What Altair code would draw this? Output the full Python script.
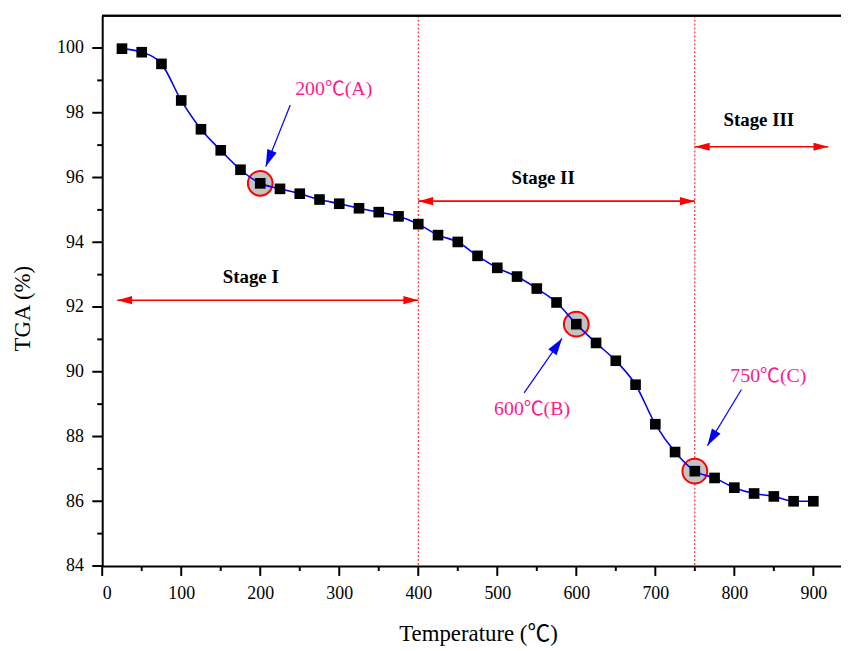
import math
import altair as alt
import pandas as pd

# ---------------- data ----------------
temperature = [25, 50, 75, 100, 125, 150, 175, 200, 225, 250, 275, 300, 325, 350,
               375, 400, 425, 450, 475, 500, 525, 550, 575, 600, 625, 650, 675,
               700, 725, 750, 775, 800, 825, 850, 875, 900]
tga = [99.98, 99.87, 99.51, 98.38, 97.49, 96.84, 96.24, 95.82, 95.65, 95.50,
       95.32, 95.19, 95.05, 94.93, 94.80, 94.56, 94.22, 94.01, 93.58, 93.21,
       92.94, 92.57, 92.14, 91.47, 90.89, 90.34, 89.60, 88.38, 87.52, 86.93,
       86.72, 86.42, 86.24, 86.15, 86.00, 86.00]

highlight_temp = [200, 600, 750]
stage_line_temp = [400, 750]

point_labels = ["200℃(A)", "600℃(B)", "750℃(C)"]
point_label_x = [293, 544, 843]
point_label_y = [98.74, 88.84, 89.88]
pointer_tail_x = [238, 534, 809]
pointer_tail_y = [98.24, 89.35, 89.45]
pointer_tip_x = [207, 582, 766]
pointer_tip_y = [96.34, 91.03, 87.72]

stage_labels = ["Stage I", "Stage II", "Stage III"]
stage_label_x = [188, 558, 831]
stage_label_y = [92.92, 95.97, 97.77]
stage_start = [19, 400, 750]
stage_end = [400, 750, 919]
stage_arrow_y = [92.21, 95.27, 96.95]

x_major = list(range(0, 901, 100))
x_minor = list(range(50, 901, 100))
y_major = list(range(84, 101, 2))
y_minor = list(range(85, 100, 2))

# ---------------- layout ----------------
W, H = 745, 555
XDOM = [0, 935]
YDOM = [84, 101]
SX = W / (XDOM[1] - XDOM[0])
SY = H / (YDOM[1] - YDOM[0])
FONT = "Liberation Serif"
FONT_C = "Liberation Serif, Noto Sans CJK SC"
MAJOR_LEN, MINOR_LEN = 10, 5


def heading(dx, dy):
    # screen angle (clockwise from up) of a vector given in data units
    px, py = dx * SX, -dy * SY
    return math.degrees(math.atan2(px, -py)) % 360


df = pd.DataFrame({"T": temperature, "TGA": tga})
hl = df[df["T"].isin(highlight_temp)]
vlines = pd.DataFrame({"T": stage_line_temp})

pointers = pd.DataFrame({
    "x0": pointer_tail_x, "y0": pointer_tail_y,
    "x1": pointer_tip_x, "y1": pointer_tip_y,
})
pointers["ang"] = [heading(b - a, d - c) for a, b, c, d in
                   zip(pointer_tail_x, pointer_tip_x, pointer_tail_y, pointer_tip_y)]
plabels = pd.DataFrame({"x": point_label_x, "y": point_label_y, "t": point_labels})

stages = pd.DataFrame({"x0": stage_start, "x1": stage_end, "y": stage_arrow_y})
heads = pd.DataFrame({
    "x": stage_start + stage_end,
    "y": stage_arrow_y + stage_arrow_y,
    "ang": [270] * 3 + [90] * 3,
})
slabels = pd.DataFrame({"x": stage_label_x, "y": stage_label_y, "t": stage_labels})

xs = alt.Scale(domain=XDOM, nice=False, zero=False)
ys = alt.Scale(domain=YDOM, nice=False, zero=False)

LBL = dict(labelFont=FONT, labelFontSize=18, labelColor="black")

x_axis = alt.Axis(
    orient="bottom", values=x_major, ticks=False, labelPadding=19,
    domainColor="black", domainWidth=2, grid=False,
    title="Temperature (℃)",
    titleX=379, titleY=68, titleBaseline="middle", titleAlign="center",
    titleFontSize=23, titleFontWeight="normal", titleFont=FONT_C, titleColor="black",
    **LBL,
)
y_axis = alt.Axis(
    orient="left", values=y_major, ticks=False, labelPadding=19,
    domainColor="black", domainWidth=2, grid=False,
    title="TGA (%)",
    titleX=-80, titleY=295, titleBaseline="middle", titleAlign="center",
    titleAngle=270,
    titleFontSize=23, titleFontWeight="normal", titleFont=FONT, titleColor="black",
    **LBL,
)


def x_ticks_layer(values, length):
    return alt.Chart(pd.DataFrame({"v": values})).mark_rule(color="black", strokeWidth=2).encode(
        x=alt.X("v:Q", scale=xs, axis=None), y=alt.value(H), y2=alt.value(H + length)
    )


def y_ticks_layer(values, length):
    return alt.Chart(pd.DataFrame({"v": values})).mark_rule(color="black", strokeWidth=2).encode(
        y=alt.Y("v:Q", scale=ys, axis=None), x=alt.value(0), x2=alt.value(-length)
    )


stage_rules = alt.Chart(vlines).mark_rule(color="#ff0000", strokeDash=[2, 2], strokeWidth=1).encode(
    x=alt.X("T:Q", scale=xs, axis=None)
)

top_rule = alt.Chart(vlines).mark_rule(color="black", strokeWidth=2).encode(
    y=alt.datum(101, scale=ys, axis=None)
)

circles = alt.Chart(hl).mark_point(
    shape="circle", filled=True, fill="#c3c3c3", stroke="#ff0000", strokeWidth=2,
    size=620, opacity=1,
).encode(x=alt.X("T:Q", scale=xs, axis=None), y=alt.Y("TGA:Q", scale=ys, axis=None))

line = alt.Chart(df).mark_line(color="#0000ff", strokeWidth=1.6, interpolate="monotone").encode(
    x=alt.X("T:Q", scale=xs, axis=x_axis), y=alt.Y("TGA:Q", scale=ys, axis=y_axis)
)

squares = alt.Chart(df).mark_square(color="black", size=115, opacity=1).encode(
    x=alt.X("T:Q", scale=xs, axis=None), y=alt.Y("TGA:Q", scale=ys, axis=None)
)

ptr_shafts = alt.Chart(pointers).mark_rule(color="#0000ff", strokeWidth=1.2).encode(
    x=alt.X("x0:Q", scale=xs, axis=None), y=alt.Y("y0:Q", scale=ys, axis=None),
    x2="x1:Q", y2="y1:Q"
)
ptr_heads = alt.Chart(pointers).mark_point(
    shape="M0,0L0.6,2L-0.6,2Z", filled=True, color="#0000ff", size=289, opacity=1
).encode(
    x=alt.X("x1:Q", scale=xs, axis=None), y=alt.Y("y1:Q", scale=ys, axis=None),
    angle=alt.Angle("ang:Q", scale=None),
)
ptr_text = alt.Chart(plabels).mark_text(
    font=FONT_C, fontSize=20, color="#ff1a8c", align="center", baseline="middle"
).encode(x=alt.X("x:Q", scale=xs, axis=None), y=alt.Y("y:Q", scale=ys, axis=None), text="t:N")

stage_shafts = alt.Chart(stages).mark_rule(color="#ff0000", strokeWidth=1.6).encode(
    x=alt.X("x0:Q", scale=xs, axis=None), x2="x1:Q", y=alt.Y("y:Q", scale=ys, axis=None)
)
stage_heads = alt.Chart(heads).mark_point(
    shape="M0,0L0.55,2L-0.55,2Z", filled=True, color="#ff0000", size=225, opacity=1
).encode(
    x=alt.X("x:Q", scale=xs, axis=None), y=alt.Y("y:Q", scale=ys, axis=None),
    angle=alt.Angle("ang:Q", scale=None),
)
stage_text = alt.Chart(slabels).mark_text(
    font=FONT, fontSize=19, fontWeight="bold", color="black", align="center", baseline="middle"
).encode(x=alt.X("x:Q", scale=xs, axis=None), y=alt.Y("y:Q", scale=ys, axis=None), text="t:N")

chart = alt.layer(
    stage_rules, top_rule, circles, line, squares,
    ptr_shafts, ptr_heads, ptr_text,
    stage_shafts, stage_heads, stage_text,
    x_ticks_layer(x_major, MAJOR_LEN), x_ticks_layer(x_minor, MINOR_LEN),
    y_ticks_layer(y_major, MAJOR_LEN), y_ticks_layer(y_minor, MINOR_LEN),
).resolve_axis(x="independent", y="independent").properties(
    width=W, height=H,
    autosize=alt.AutoSizeParams(type="none"),
    padding={"left": 95, "top": 5, "right": 0, "bottom": 82},
    background="white",
).configure_view(stroke=None).configure_axis(grid=False)

chart.save("out.html", embed_options={"renderer": "svg", "actions": False})
